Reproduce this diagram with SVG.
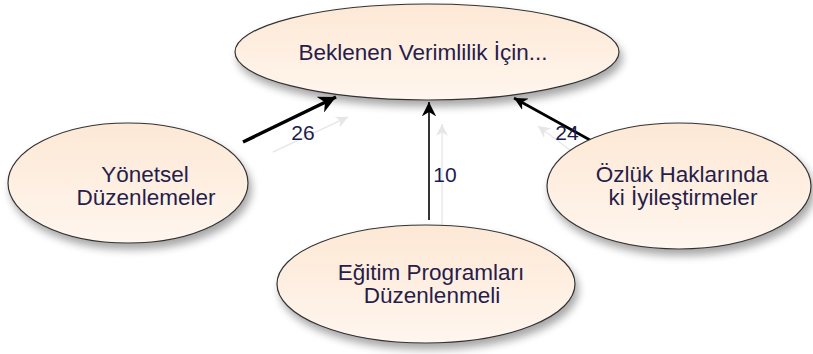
<svg xmlns="http://www.w3.org/2000/svg" width="813" height="354" viewBox="0 0 813 354">
<defs>
<linearGradient id="fillG" x1="0" y1="0" x2="0" y2="1">
<stop offset="0" stop-color="#fde8d5"/>
<stop offset="1" stop-color="#fff6ee"/>
</linearGradient>
<filter id="sh" x="-20%" y="-20%" width="140%" height="160%">
<feGaussianBlur in="SourceAlpha" stdDeviation="4"/>
<feOffset dx="3" dy="6" result="b"/>
<feComponentTransfer><feFuncA type="linear" slope="0.35"/></feComponentTransfer>
<feMerge><feMergeNode/><feMergeNode in="SourceGraphic"/></feMerge>
</filter>
<marker id="ah" viewBox="0 0 10 10" refX="10" refY="5" markerWidth="5" markerHeight="5" orient="auto" markerUnits="strokeWidth">
<path d="M0,0 L10,5 L0,10 L3,5 z" fill="#000"/>
</marker>
<marker id="ahThin" viewBox="0 0 10 10" refX="10" refY="5" markerWidth="9" markerHeight="9" orient="auto" markerUnits="strokeWidth">
<path d="M0,0 L10,5 L0,10 L3,5 z" fill="#000"/>
</marker>
<marker id="ahFaint" viewBox="0 0 10 10" refX="10" refY="5" markerWidth="8" markerHeight="8" orient="auto" markerUnits="strokeWidth">
<path d="M0,0 L10,5 L0,10 L3,5 z" fill="#e6e6e6"/>
</marker>
</defs>
<style>
.node ellipse{fill:url(#fillG);stroke:#333;stroke-width:1.2;filter:url(#sh)}
.lbl{font-family:"Liberation Sans",Arial,sans-serif;font-size:22.5px;fill:#271d4a;text-anchor:middle}
.num{font-family:"Liberation Sans",Arial,sans-serif;font-size:21px;fill:#1c1c50;text-anchor:middle}
.faint{stroke:#e9e9e9;stroke-width:1.5;fill:none;marker-end:url(#ahFaint)}
.edge{stroke:#000;fill:none}
</style>
<g id="connectors">
<line class="faint" x1="273" y1="152" x2="348" y2="117"/>
<line class="faint" x1="442" y1="232" x2="442" y2="124"/>
<line class="faint" x1="570" y1="150" x2="538" y2="126"/>
<line class="edge" x1="243" y1="142" x2="336" y2="97" stroke-width="3.5" marker-end="url(#ah)"/>
<line class="edge" x1="429" y1="220" x2="429" y2="102" stroke-width="1.6" marker-end="url(#ahThin)"/>
<line class="edge" x1="590" y1="140" x2="514" y2="98" stroke-width="2.6" marker-end="url(#ah)"/>
<text class="num" x="303" y="140">26</text>
<text class="num" x="445" y="182">10</text>
<text class="num" x="567" y="140">24</text>
</g>
<g id="node-top" class="node">
<ellipse cx="427" cy="52" rx="192" ry="48"/>
<text class="lbl" x="423" y="60">Beklenen Verimlilik İçin...</text>
</g>
<g id="node-left" class="node">
<ellipse cx="128" cy="183" rx="120" ry="60"/>
<text class="lbl" x="145" y="182">Yönetsel</text>
<text class="lbl" x="146" y="205">Düzenlemeler</text>
</g>
<g id="node-right" class="node">
<ellipse cx="679" cy="186" rx="132" ry="63"/>
<text class="lbl" x="682" y="182">Özlük Haklarında</text>
<text class="lbl" x="683" y="205">ki İyileştirmeler</text>
</g>
<g id="node-bottom" class="node">
<ellipse cx="426" cy="284" rx="149" ry="59"/>
<text class="lbl" x="431" y="280">Eğitim Programları</text>
<text class="lbl" x="432" y="303">Düzenlenmeli</text>
</g>
</svg>
